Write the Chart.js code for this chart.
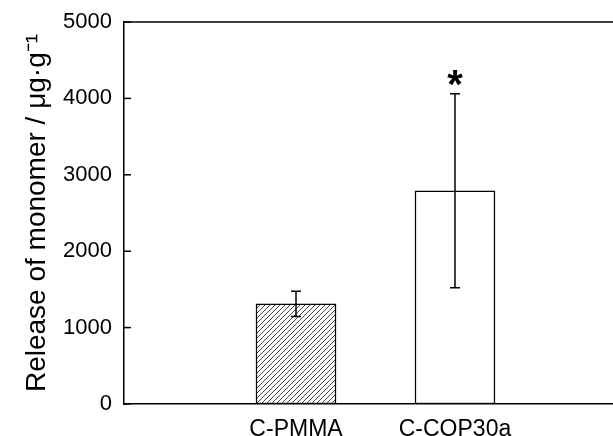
<!DOCTYPE html>
<html lang="en">
<head>
    <meta charset="UTF-8">
    <title>Release of monomer</title>
    <style>
        html, body {
            margin: 0;
            padding: 0;
            background: #ffffff;
        }
        .wrap {
            width: 613px;
            height: 436px;
        }
    </style>
</head>
<body>
    <div class="wrap">
        <canvas id="chart"></canvas>
    </div>
    <script src="https://cdn.jsdelivr.net/npm/chart.js"></script>
    <script>
        // Datos
        const categories = ['C-PMMA', 'C-COP30a'];
        const releaseMean = [1310, 2790];
        const releaseSD = [165, 1270];
        const significant = [false, true];
        const yTicks = [0, 1000, 2000, 3000, 4000, 5000];

        const FONT = "'Liberation Sans', Arial, sans-serif";

        // Patron rayado para la primera barra
        function makeHatch() {
            const c = document.createElement('canvas');
            c.width = 5;
            c.height = 5;
            const g = c.getContext('2d');
            g.fillStyle = '#ffffff';
            g.fillRect(0, 0, 5, 5);
            g.strokeStyle = '#333333';
            g.lineWidth = 0.9;
            g.beginPath();
            g.moveTo(-1, 6); g.lineTo(6, -1);
            g.moveTo(-1, 1); g.lineTo(1, -1);
            g.moveTo(4, 6); g.lineTo(6, 4);
            g.stroke();
            return g.createPattern(c, 'repeat');
        }
        const hatch = makeHatch();

        // Barras de error, asterisco, marco y ticks hacia dentro
        const extras = {
            id: 'extras',
            afterDatasetsDraw(chart) {
                const ctx = chart.ctx;
                const x = chart.scales.x;
                const y = chart.scales.y;
                const area = chart.chartArea;
                ctx.save();
                ctx.strokeStyle = '#000';
                ctx.lineWidth = 1.5;

                releaseMean.forEach((m, i) => {
                    const px = x.getPixelForValue(i + 1);
                    const top = y.getPixelForValue(m + releaseSD[i]);
                    const bot = y.getPixelForValue(m - releaseSD[i]);
                    ctx.beginPath();
                    ctx.moveTo(px, top); ctx.lineTo(px, bot);
                    ctx.moveTo(px - 5, top); ctx.lineTo(px + 5, top);
                    ctx.moveTo(px - 5, bot); ctx.lineTo(px + 5, bot);
                    ctx.stroke();
                    if (significant[i]) {
                        ctx.fillStyle = '#000';
                        ctx.font = 'bold 40px ' + FONT;
                        ctx.textAlign = 'center';
                        ctx.textBaseline = 'alphabetic';
                        const mt = ctx.measureText('*');
                        const cy = top - 16;
                        const base = cy + (mt.actualBoundingBoxAscent - mt.actualBoundingBoxDescent) / 2;
                        ctx.fillText('*', px, base);
                    }
                });

                // linea superior
                ctx.beginPath();
                ctx.moveTo(area.left, area.top);
                ctx.lineTo(chart.width, area.top);
                ctx.stroke();

                // ticks hacia dentro
                yTicks.forEach(v => {
                    const py = y.getPixelForValue(v);
                    ctx.beginPath();
                    ctx.moveTo(area.left, py);
                    ctx.lineTo(area.left + 7, py);
                    ctx.stroke();
                });
                ctx.restore();
            }
        };

        const ctx = document.getElementById('chart').getContext('2d');
        const chart = new Chart(ctx, {
            type: 'bar',
            data: {
                datasets: [{
                    data: releaseMean.map((v, i) => ({ x: i + 1, y: v })),
                    backgroundColor: [hatch, '#ffffff'],
                    borderColor: '#000000',
                    borderWidth: 1.5,
                    borderSkipped: false,
                    barThickness: 80
                }]
            },
            options: {
                responsive: true,
                maintainAspectRatio: false,
                animation: false,
                layout: {
                    padding: { top: 22, right: 0, bottom: 0, left: 20 }
                },
                plugins: {
                    legend: { display: false },
                    tooltip: { enabled: false }
                },
                scales: {
                    x: {
                        type: 'linear',
                        offset: false,
                        min: -0.082,
                        max: 2.994,
                        afterBuildTicks(scale) {
                            scale.ticks = categories.map((c, i) => ({ value: i + 1 }));
                        },
                        afterFit(scale) {
                            scale.height = 32;
                        },
                        ticks: {
                            autoSkip: false,
                            maxRotation: 0,
                            color: '#000',
                            padding: 6,
                            font: { family: FONT, size: 23, lineHeight: 1 },
                            callback: (v) => categories[v - 1]
                        },
                        grid: { display: false },
                        border: { display: true, color: '#000', width: 1.5 }
                    },
                    y: {
                        min: 0,
                        max: 5000,
                        afterBuildTicks(scale) {
                            scale.ticks = yTicks.map(v => ({ value: v }));
                        },
                        afterFit(scale) {
                            scale.width = 104;
                        },
                        ticks: {
                            color: '#000',
                            padding: 4,
                            font: { family: FONT, size: 22 },
                            callback: (v) => String(v)
                        },
                        grid: { display: false },
                        border: { display: true, color: '#000', width: 1.5 },
                        title: {
                            display: true,
                            text: 'Release of monomer / μg·g⁻¹',
                            color: '#000',
                            padding: { top: 0, bottom: 2 },
                            font: { family: FONT, size: 28 }
                        }
                    }
                }
            },
            plugins: [extras]
        });
    </script>
</body>
</html>
